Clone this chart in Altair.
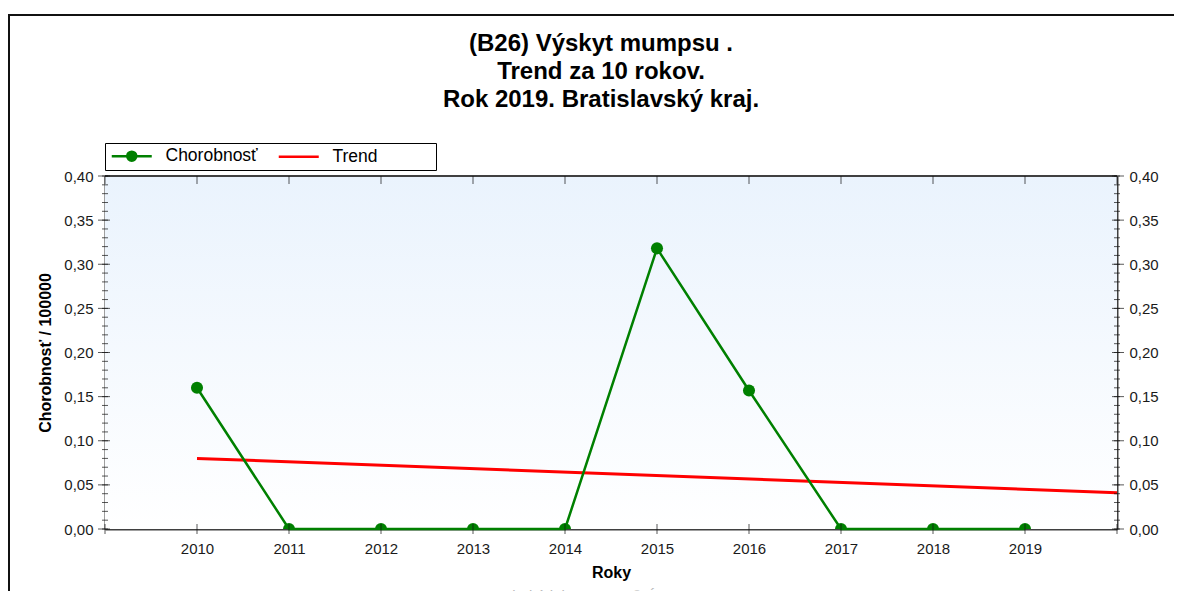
import altair as alt
import pandas as pd

# ---------------- data ----------------
years = [2010, 2011, 2012, 2013, 2014, 2015, 2016, 2017, 2018, 2019]
chorobnost = [0.16, 0.0, 0.0, 0.0, 0.0, 0.318, 0.157, 0.0, 0.0, 0.0]
trend_years = [2010, 2020]
trend_values = [0.080, 0.041]

series_names = ["Chorobnosť", "Trend"]
series_colors = ["#008000", "#ff0000"]

x_domain = [2009, 2020]
y_domain = [0.0, 0.40]
x_tick_years = [2009, 2010, 2011, 2012, 2013, 2014, 2015, 2016, 2017, 2018, 2019, 2020]
y_major = [0.0, 0.05, 0.10, 0.15, 0.20, 0.25, 0.30, 0.35, 0.40]
y_minor = [round(i / 100, 2) for i in range(41)]

title_lines = ["(B26) Výskyt mumpsu .", "Trend za 10 rokov.", "Rok 2019. Bratislavský kraj."]
x_title = "Roky"
y_title = "Chorobnosť / 100000"
footer_text = "Zdroj údajov: EPIS, © ÚVZ SR"

FONT = "Liberation Sans"
W, H = 1012, 353
LABEL_SIZE = 15
AXIS_COLOR = "#404040"
TEXT_COLOR = "#1a1a1a"

df_main = pd.DataFrame({"rok": years, "hodnota": chorobnost})
df_trend = pd.DataFrame({"rok": trend_years, "hodnota": trend_values})
df_legend = pd.DataFrame({"serie": series_names})
df_minor = pd.DataFrame({"v": y_minor})
df_major = pd.DataFrame({"v": y_major})
df_xt = pd.DataFrame({"rok": x_tick_years})
df_frame = pd.DataFrame({"x0": [x_domain[0]], "x1": [x_domain[1]], "y0": [y_domain[0]], "y1": [y_domain[1]]})

xs = alt.Scale(domain=x_domain, nice=False, zero=False)
ys = alt.Scale(domain=y_domain, nice=False, zero=False)

comma_expr = "replace(format(datum.value, '.2f'), '.', ',')"
axis_common = dict(
    ticks=False, grid=False, domainColor=AXIS_COLOR, domainWidth=2,
    labelFont=FONT, labelFontSize=LABEL_SIZE, labelColor=TEXT_COLOR,
    titleFont=FONT, titleFontSize=16, titleFontWeight="bold", titleColor="#000000",
)

# background gradient of the plot area (carries the left axis)
bg = alt.Chart(df_frame).mark_rect(
    fill=alt.LinearGradient(
        gradient="linear",
        stops=[alt.GradientStop(color="#eaf3fd", offset=0),
               alt.GradientStop(color="#ffffff", offset=1)],
        x1=0, x2=0, y1=0, y2=1),
).encode(
    x=alt.X("x0:Q", scale=xs, axis=None),
    x2="x1:Q",
    y=alt.Y("y1:Q", scale=ys, axis=alt.Axis(
        orient="left", values=y_major, labelExpr=comma_expr, title=y_title,
        labelPadding=12, titlePadding=10, **axis_common)),
    y2="y0:Q",
)

# top border of plot area
top_line = alt.Chart(df_frame).mark_rule(color=AXIS_COLOR, strokeWidth=2).encode(
    x=alt.X("x0:Q", scale=xs, axis=None), x2="x1:Q",
    y=alt.Y("y1:Q", scale=ys, axis=None),
)

trend = alt.Chart(df_trend).mark_line(color="#ff0000", strokeWidth=3).encode(
    x=alt.X("rok:Q", scale=xs, axis=None),
    y=alt.Y("hodnota:Q", scale=ys, axis=None),
)

green_line = alt.Chart(df_main).mark_line(color="#008000", strokeWidth=2.5).encode(
    x=alt.X("rok:Q", scale=xs, axis=None),
    y=alt.Y("hodnota:Q", scale=ys, axis=None),
)

points = alt.Chart(df_main).mark_circle(color="#008000", size=145, opacity=1, clip=True).encode(
    x=alt.X("rok:Q", scale=xs, axis=None),
    y=alt.Y("hodnota:Q", scale=ys, axis=None),
)

# tick marks crossing the axes; the bottom ticks carry the x axis
tick_color = "#111111"
xt_bottom = alt.Chart(df_xt).mark_tick(orient="vertical", size=10, thickness=1, color=tick_color).encode(
    x=alt.X("rok:Q", scale=xs, axis=alt.Axis(
        orient="bottom", values=years, format="d", title=x_title,
        labelPadding=12, titlePadding=8, **axis_common)),
    y=alt.YDatum(0.0, axis=None))
xt_top = alt.Chart(df_xt).mark_tick(orient="vertical", size=8, thickness=1, color=tick_color, yOffset=4).encode(
    x=alt.X("rok:Q", scale=xs, axis=None), y=alt.YDatum(0.40, axis=None))
yl_minor = alt.Chart(df_minor).mark_tick(orient="horizontal", size=6, thickness=1, color=tick_color).encode(
    x=alt.XDatum(2009, axis=None), y=alt.Y("v:Q", scale=ys, axis=None))
yl_major = alt.Chart(df_major).mark_tick(orient="horizontal", size=12, thickness=1, color=tick_color, xOffset=-1).encode(
    x=alt.XDatum(2009, axis=None), y=alt.Y("v:Q", scale=ys, axis=None))
yr_minor = alt.Chart(df_minor).mark_tick(orient="horizontal", size=6, thickness=1, color=tick_color).encode(
    x=alt.XDatum(2020, axis=None), y=alt.Y("v:Q", scale=ys, axis=None))

# legend driver (invisible marks; the legend itself is the library's legend)
NBSP = "\u00a0"
ZWSP = "\u200b"
leg_props = dict(
    title=None, orient="none", legendX=0, legendY=-33, direction="horizontal",
    strokeColor="#000000", padding=4, fillColor="#ffffff",
    symbolSize=100, symbolStrokeWidth=2.5, symbolOpacity=1,
    symbolOffset=14, labelOffset=25, columnPadding=15,
    labelFont=FONT, labelFontSize=17.5, labelColor="#000000",
    labelExpr="datum.label == 'Trend' ? 'Trend" + NBSP * 11 + ZWSP + "' : datum.label",
)
circle_path = "M-4,0L4,0M-0.9,0A0.9,0.9,0,1,1,0.9,0A0.9,0.9,0,1,1,-0.9,0Z"
line_path = "M-4,0L4,0"
legend_layer = alt.Chart(df_legend).mark_point(filled=True, opacity=0).encode(
    fill=alt.Fill("serie:N", scale=alt.Scale(domain=series_names, range=series_colors), legend=alt.Legend(**leg_props)),
    stroke=alt.Stroke("serie:N", scale=alt.Scale(domain=series_names, range=series_colors), legend=alt.Legend(**leg_props)),
    shape=alt.Shape("serie:N", scale=alt.Scale(domain=series_names, range=[circle_path, line_path]), legend=alt.Legend(**leg_props)),
)

# frame of the whole picture (decoration) and footer text
frame_left = alt.Chart(df_frame).mark_rule(color="#111111", strokeWidth=2).encode(
    x=alt.value(-96), y=alt.value(-161), y2=alt.value(H + 80))
frame_top = alt.Chart(df_frame).mark_rule(color="#111111", strokeWidth=2).encode(
    x=alt.value(-97), x2=alt.value(W + 80), y=alt.value(-161))
footer = alt.Chart(df_frame).mark_text(
    text=footer_text, font=FONT, fontSize=15, color="#b8b8b8", baseline="top", align="center"
).encode(x=alt.value(495), y=alt.value(H + 60))

# right axis carried by the right major ticks
right_axis = alt.Chart(df_major).mark_tick(orient="horizontal", size=12, thickness=1, color=tick_color, xOffset=1).encode(
    x=alt.XDatum(2020, axis=None),
    y=alt.Y("v:Q", scale=ys, axis=alt.Axis(
        orient="right", values=y_major, labelExpr=comma_expr, title=None,
        labelPadding=12, **axis_common)),
)

chart = alt.layer(
    bg, trend, green_line, points, top_line,
    xt_bottom, xt_top, yl_minor, yl_major, yr_minor, right_axis,
    legend_layer, frame_left, frame_top, footer,
).resolve_axis(x="independent", y="independent").properties(
    width=W, height=H,
    autosize=alt.AutoSizeParams(type="none"),
    padding={"left": 97, "top": 168, "right": 57, "bottom": 62},
    title=alt.TitleParams(
        text=title_lines, font=FONT, fontSize=24, fontWeight="bold", color="#000000",
        anchor="middle", frame="group", lineHeight=28, offset=-98, dx=-10),
).configure_view(stroke=None).configure_legend(strokeWidth=1.5).configure(background="#ffffff")

chart.save("out.html", embed_options={"renderer": "svg", "actions": False})
